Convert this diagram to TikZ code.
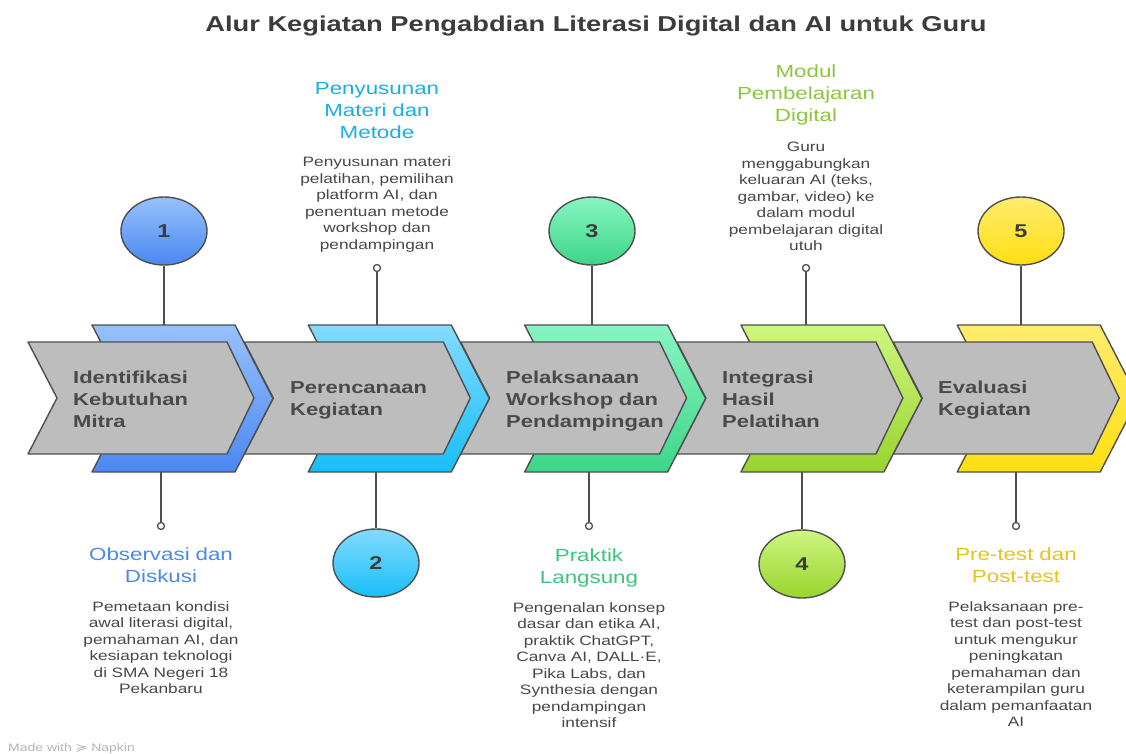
\documentclass[tikz,border=0pt]{standalone}
\usepackage{fontspec}
\setmainfont{Liberation Sans}[FakeStretch=1.27]
\newfontfamily\symfont{DejaVu Sans}[FakeStretch=1.27]
\usetikzlibrary{shapes.geometric}

\definecolor{edge}{HTML}{4F4F4F}
\definecolor{chev}{HTML}{BDBDBD}
\definecolor{titletext}{HTML}{3C3C3C}
\definecolor{chevtext}{HTML}{4A4A4A}
\definecolor{bodytext}{HTML}{474747}
\definecolor{marktext}{HTML}{B4B4B4}
% step colours: light (top) / dark (bottom) / heading text
\definecolor{blueA}{HTML}{97C1FC}\definecolor{blueB}{HTML}{4A88F2}\definecolor{blueT}{HTML}{4A88EC}
\definecolor{cyanA}{HTML}{84DBFF}\definecolor{cyanB}{HTML}{18BEF9}\definecolor{cyanT}{HTML}{1AAEE2}
\definecolor{greenA}{HTML}{88F5C2}\definecolor{greenB}{HTML}{3CD688}\definecolor{greenT}{HTML}{3CC47C}
\definecolor{limeA}{HTML}{CEF67E}\definecolor{limeB}{HTML}{98D42E}\definecolor{limeT}{HTML}{8CC63F}
\definecolor{yellowA}{HTML}{FFEC6E}\definecolor{yellowB}{HTML}{FFDF10}\definecolor{yellowT}{HTML}{E2C41A}

\tikzset{
  outline/.style={draw=edge, line width=1.4pt, line join=round},
  grayband/.style={outline, fill=chev},
  colorband/.style 2 args={outline, top color=#1, bottom color=#2},
  numdisc/.style 2 args={ellipse, outline, top color=#1, bottom color=#2,
    minimum width=86pt, minimum height=68pt, inner sep=0pt,
    font=\bfseries\fontsize{18.5}{20}\selectfont, text=titletext},
  pin/.style={circle, outline, line width=1.3pt, fill=white, minimum size=7pt, inner sep=0pt},
  stem/.style={draw=edge, line width=1.5pt},
  chevlabel/.style={anchor=base west, inner sep=0pt, text width=180pt, align=left,
    font=\bfseries\fontsize{17.3}{22}\selectfont, text=chevtext},
  steptitle/.style={anchor=base, inner sep=0pt, text width=220pt, align=center,
    font=\fontsize{17.6}{22}\selectfont, text=#1},
  stepbody/.style={anchor=base, inner sep=0pt, text width=220pt, align=center,
    font=\fontsize{13.6}{16.5}\selectfont, text=bodytext},
}

% gray chevron body with its left edge at x = #1
\newcommand{\graychevron}[1]{%
  \path[grayband] (#1,342) -- ++(199,0) -- ++(27,56) -- ++(-27,56) -- ++(-199,0) -- ++(29,-56) -- cycle;}
% coloured chevron behind it, left edge at x = #1, shaded from #2 to #3
\newcommand{\colorchevron}[3]{%
  \path[colorband={#2}{#3}] (#1,325) -- ++(143,0) -- ++(38,73.5) -- ++(-38,73.5) -- ++(-143,0) -- ++(38,-73.5) -- cycle;}

\begin{document}
\begin{tikzpicture}[x=1pt, y=-1pt]
\useasboundingbox (0,0) rectangle (1126,754);
\clip (0,0) rectangle (1126,754);

\node[anchor=base, inner sep=0pt, font=\bfseries\fontsize{21.5}{26}\selectfont, text=titletext]
  (title) at (596,32) {Alur Kegiatan Pengabdian Literasi Digital dan AI untuk Guru};

% chevron band, drawn from right to left so each coloured tip overlaps the next gray body
\colorchevron{957.2}{yellowA}{yellowB}
\graychevron{893.2}
\colorchevron{740.9}{limeA}{limeB}
\graychevron{676.9}
\colorchevron{524.6}{greenA}{greenB}
\graychevron{460.6}
\colorchevron{308.3}{cyanA}{cyanB}
\graychevron{244.3}
\colorchevron{92}{blueA}{blueB}
\graychevron{28}

\node[chevlabel] (l1) at (73,383) {Identifikasi\\Kebutuhan\\Mitra};
\node[chevlabel] (l2) at (290,393) {Perencanaan\\Kegiatan};
\node[chevlabel] (l3) at (506,383) {Pelaksanaan\\Workshop dan\\Pendampingan};
\node[chevlabel] (l4) at (722,383) {Integrasi\\Hasil\\Pelatihan};
\node[chevlabel] (l5) at (938,393) {Evaluasi\\Kegiatan};

% numbered discs and pins
\node[numdisc={blueA}{blueB}] (c1) at (164,231) {1};
\node[numdisc={cyanA}{cyanB}] (c2) at (376,563) {2};
\node[numdisc={greenA}{greenB}] (c3) at (592,231) {3};
\node[numdisc={limeA}{limeB}] (c4) at (802,564) {4};
\node[numdisc={yellowA}{yellowB}] (c5) at (1021,231) {5};

\node[pin] (p1) at (161,526) {};
\node[pin] (p2) at (377,268) {};
\node[pin] (p3) at (589,526) {};
\node[pin] (p4) at (806,268) {};
\node[pin] (p5) at (1016,526) {};

% stems meeting the coloured chevrons
\coordinate (t1) at (164,325); \coordinate (b1) at (161,472);
\coordinate (t2) at (377,325); \coordinate (b2) at (376,472);
\coordinate (t3) at (592,325); \coordinate (b3) at (589,472);
\coordinate (t4) at (806,325); \coordinate (b4) at (802,472);
\coordinate (t5) at (1021,325); \coordinate (b5) at (1016,472);

\draw[stem] (c1.south) -- (t1);  \draw[stem] (b1) -- (p1.north);
\draw[stem] (p2.south) -- (t2);  \draw[stem] (b2) -- (c2.north);
\draw[stem] (c3.south) -- (t3);  \draw[stem] (b3) -- (p3.north);
\draw[stem] (p4.south) -- (t4);  \draw[stem] (b4) -- (c4.north);
\draw[stem] (c5.south) -- (t5);  \draw[stem] (b5) -- (p5.north);

% step descriptions
\node[steptitle=blueT] (h1) at (161,560) {Observasi dan\\Diskusi};
\node[stepbody] (d1) at (161,611) {Pemetaan kondisi\\awal literasi digital,\\pemahaman AI, dan\\kesiapan teknologi\\di SMA Negeri 18\\Pekanbaru};

\node[steptitle=cyanT] (h2) at (377,95) {Penyusunan\\Materi dan\\Metode};
\node[stepbody] (d2) at (377,167) {Penyusunan materi\\pelatihan, pemilihan\\platform AI, dan\\penentuan metode\\workshop dan\\pendampingan};

\node[steptitle=greenT] (h3) at (589,561) {Praktik\\Langsung};
\node[stepbody] (d3) at (589,612) {Pengenalan konsep\\dasar dan etika AI,\\praktik ChatGPT,\\Canva AI, DALL·E,\\Pika Labs, dan\\Synthesia dengan\\pendampingan\\intensif};

\node[steptitle=limeT] (h4) at (806,78) {Modul\\Pembelajaran\\Digital};
\node[stepbody] (d4) at (806,152) {Guru\\menggabungkan\\keluaran AI (teks,\\gambar, video) ke\\dalam modul\\pembelajaran digital\\utuh};

\node[steptitle=yellowT] (h5) at (1016,560) {Pre-test dan\\Post-test};
\node[stepbody] (d5) at (1016,611) {Pelaksanaan pre-\\test dan post-test\\untuk mengukur\\peningkatan\\pemahaman dan\\keterampilan guru\\dalam pemanfaatan\\AI};

\node[anchor=base west, inner sep=0pt, font=\fontsize{11}{13}\selectfont, text=marktext]
  (mark) at (8,751) {Made with {\symfont ≽} Napkin};
\end{tikzpicture}
\end{document}
